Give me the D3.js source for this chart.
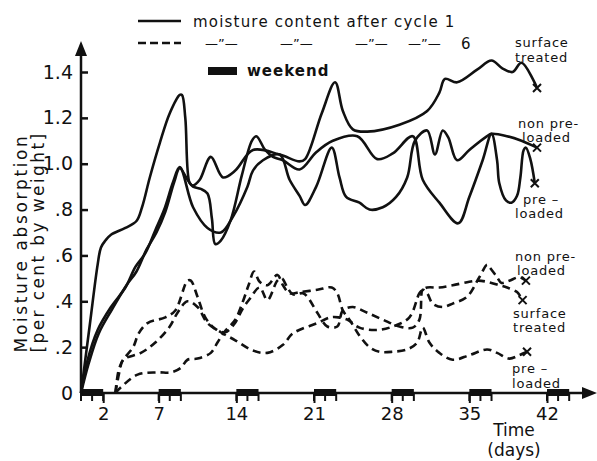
<!DOCTYPE html>
<html>
<head>
<meta charset="utf-8">
<script src="https://cdn.jsdelivr.net/npm/d3@7"></script>
<style>
  body { margin: 0; background: #fff; }
  svg text { font-family: "DejaVu Sans", sans-serif; fill: #111; }
</style>
</head>
<body>
<div id="chart"></div>
<script>
// moisture absorption, [day, per cent by weight]
const solidSurface = [[0,0],[0.8,0.30],[1.5,0.56],[1.8,0.635],[2.2,0.665],[2.7,0.69],[4.0,0.72],[5.0,0.75],[5.5,0.81],[6.2,0.94],[7.1,1.09],[8.0,1.22],[8.9,1.30],[9.1,1.30],[9.4,1.20],[9.8,0.915],[10.1,0.905],[10.7,0.93],[11.7,1.03],[12.8,0.94],[13.9,0.97],[15.5,1.06],[17.9,1.04],[19.7,1.01],[20.2,1.02],[21.7,1.22],[22.9,1.355],[23.6,1.23],[24.5,1.15],[25.8,1.14],[28.7,1.17],[31.2,1.23],[32.3,1.31],[32.8,1.37],[33.9,1.355],[35.7,1.41],[37.0,1.45],[38.0,1.415],[38.9,1.40],[39.7,1.44],[41.1,1.33]]
const solidNonPre = [[0,0],[0.6,0.145],[1.5,0.275],[2.7,0.375],[4.0,0.46],[4.9,0.55],[5.8,0.61],[6.7,0.71],[7.5,0.80],[8.3,0.92],[8.9,0.985],[10.1,0.81],[11.4,0.72],[12.6,0.70],[13.7,0.77],[15.0,0.90],[15.5,0.97],[16.4,1.015],[17.9,1.04],[18.8,0.93],[19.7,0.86],[20.2,0.82],[21.2,0.90],[22.6,1.07],[23.3,0.94],[23.9,0.855],[25.1,0.83],[26.0,0.80],[27.2,0.81],[28.4,0.855],[29.4,0.94],[30.1,1.10],[31.2,1.145],[31.9,1.04],[32.6,1.145],[33.1,1.115],[33.9,1.015],[35.0,1.06],[36.6,1.12],[37.0,1.13],[38.4,1.12],[39.7,1.10],[41.1,1.07]]
const solidPre = [[0,0],[0.7,0.13],[1.6,0.26],[2.8,0.365],[4.1,0.47],[5.0,0.53],[5.9,0.625],[6.8,0.70],[7.6,0.79],[8.4,0.92],[8.9,0.98],[9.6,0.93],[10.1,0.90],[10.8,0.89],[11.4,0.87],[11.8,0.76],[12.1,0.65],[12.6,0.665],[13.5,0.755],[14.5,0.95],[15.4,1.10],[15.8,1.12],[16.6,1.06],[17.3,1.03],[18.2,1.015],[19.7,0.975],[21.2,1.05],[22.7,1.10],[24.9,1.12],[26.7,1.02],[28.1,1.045],[29.9,1.12],[30.8,0.93],[32.3,0.83],[34.0,0.74],[35.0,0.855],[36.2,1.015],[37.0,1.13],[37.5,1.015],[37.7,0.915],[38.3,0.84],[38.8,0.83],[39.3,0.86],[39.6,0.94],[39.9,1.06],[40.1,1.07],[40.5,1.02],[40.9,0.915]]
const dashNonPre = [[3.1,0],[3.4,0.1],[3.8,0.145],[4.7,0.2],[5.2,0.26],[6.0,0.305],[7.6,0.33],[8.5,0.36],[9.6,0.49],[9.9,0.49],[10.5,0.42],[11.2,0.33],[12.1,0.28],[13.0,0.265],[13.8,0.30],[14.6,0.37],[15.2,0.41],[16.1,0.46],[16.8,0.405],[17.7,0.49],[18.1,0.50],[18.6,0.46],[19.1,0.43],[20.0,0.435],[20.4,0.42],[21.3,0.35],[22.2,0.29],[23.1,0.29],[23.6,0.36],[24.5,0.375],[25.8,0.35],[27.2,0.32],[28.7,0.29],[29.9,0.285],[30.5,0.32],[30.8,0.45],[31.2,0.435],[31.7,0.39],[32.6,0.375],[33.5,0.39],[34.8,0.42],[35.9,0.505],[36.6,0.56],[36.8,0.55],[37.5,0.505],[37.9,0.48],[38.6,0.49],[39.5,0.505],[40.1,0.49]]
const dashSurface = [[3.1,0],[3.5,0.1],[3.8,0.145],[5.4,0.175],[6.7,0.22],[8.0,0.29],[8.7,0.35],[9.6,0.40],[10.5,0.375],[11.4,0.305],[12.6,0.265],[13.9,0.23],[15.5,0.185],[16.8,0.175],[18.2,0.21],[19.1,0.26],[21.3,0.305],[22.5,0.33],[23.2,0.33],[24.0,0.32],[25.1,0.285],[26.7,0.275],[28.1,0.29],[29.6,0.33],[30.5,0.435],[30.8,0.45],[31.2,0.46],[32.3,0.46],[33.5,0.47],[35.0,0.485],[35.8,0.49],[36.6,0.485],[37.7,0.47],[38.4,0.46],[39.3,0.44],[39.8,0.405]]
const dashPre = [[3.1,0],[3.6,0.025],[5.1,0.08],[6.9,0.09],[8.1,0.09],[9.0,0.11],[9.6,0.145],[10.5,0.15],[11.7,0.175],[12.3,0.22],[12.9,0.265],[13.9,0.32],[14.6,0.40],[15.1,0.47],[15.6,0.53],[16.1,0.485],[16.8,0.47],[17.7,0.515],[18.2,0.47],[18.8,0.435],[19.7,0.44],[21.3,0.45],[22.6,0.46],[23.1,0.435],[23.6,0.36],[24.2,0.32],[25.1,0.25],[26.0,0.20],[26.9,0.18],[28.1,0.18],[29.4,0.19],[30.3,0.22],[30.8,0.285],[31.4,0.22],[32.3,0.175],[33.5,0.145],[35.0,0.165],[36.6,0.19],[37.5,0.175],[38.6,0.15],[39.5,0.165],[40.2,0.18]]

const yTicks = [0, 0.2, 0.4, 0.6, 0.8, 1.0, 1.2, 1.4]
const yTickLabels = ['0', '.2', '.4', '.6', '.8', '1.0', '1.2', '1.4']
const xTicks = [2, 7, 14, 21, 28, 35, 42]
const weekends = [0, 7, 14, 21, 28, 35, 42]

const width = 597, height = 461
const svg = d3.select('#chart').append('svg')
    .attr('width', width)
    .attr('height', height)

const x = d3.scaleLinear().domain([0, 42]).range([81, 547])
const y = d3.scaleLinear().domain([0, 1.4]).range([393, 72])

const line = d3.line()
    .x(d => x(d[0]))
    .y(d => y(d[1]))
    .curve(d3.curveCatmullRom.alpha(0.5))

// weekends on the time axis
svg.append('g').selectAll('rect')
    .data(weekends)
    .enter()
    .append('rect')
    .attr('x', d => x(d))
    .attr('y', 389)
    .attr('width', d => x(d + 2) - x(d))
    .attr('height', 7)
    .attr('fill', '#111')
svg.append('g').selectAll('line')
    .data(weekends.flatMap(w => [w, w + 1, w + 2]))
    .enter()
    .append('line')
    .attr('x1', d => x(d)).attr('x2', d => x(d))
    .attr('y1', 393).attr('y2', 401)
    .attr('stroke', '#111')
    .attr('stroke-width', 2)

// axes
const yAxis = d3.axisLeft(y)
    .tickValues(yTicks)
    .tickFormat((d, i) => yTickLabels[i])
    .tickSizeInner(-7)
    .tickSizeOuter(0)
    .tickPadding(8)
svg.append('g')
    .attr('transform', `translate(${x(0)},0)`)
    .call(yAxis)
    .call(g => g.select('.domain').remove())
    .call(g => g.selectAll('line').attr('stroke', '#111').attr('stroke-width', 2.5))
    .call(g => g.selectAll('text').attr('font-family', '"DejaVu Sans Condensed", "DejaVu Sans"').attr('font-size', 19).attr('fill', '#111'))

const xAxis = d3.axisBottom(x)
    .tickValues(xTicks)
    .tickSizeInner(10)
    .tickSizeOuter(0)
    .tickPadding(4)
svg.append('g')
    .attr('transform', `translate(0,${y(0)})`)
    .call(xAxis)
    .call(g => g.select('.domain').remove())
    .call(g => g.selectAll('line').attr('stroke', '#111').attr('stroke-width', 2))
    .call(g => g.selectAll('text').attr('font-family', '"DejaVu Sans Condensed", "DejaVu Sans"').attr('font-size', 18).attr('fill', '#111'))

// axis lines with arrow heads
svg.append('line')
    .attr('x1', x(0)).attr('y1', y(0)).attr('x2', x(0)).attr('y2', 50)
    .attr('stroke', '#111').attr('stroke-width', 2.5)
svg.append('path')
    .attr('d', `M${x(0)},41 L${x(0) - 6},56 L${x(0) + 6},56 Z`)
    .attr('fill', '#111')
svg.append('line')
    .attr('x1', x(0)).attr('y1', y(0)).attr('x2', 588).attr('y2', y(0))
    .attr('stroke', '#111').attr('stroke-width', 2.5)
svg.append('path')
    .attr('d', `M597,${y(0)} L582,${y(0) - 6} L582,${y(0) + 6} Z`)
    .attr('fill', '#111')

// curves
const series = [
    { data: solidSurface, dash: null },
    { data: solidNonPre, dash: null },
    { data: solidPre, dash: null },
    { data: dashNonPre, dash: '8,5' },
    { data: dashSurface, dash: '8,5' },
    { data: dashPre, dash: '8,5' }
]
svg.append('g').selectAll('path')
    .data(series)
    .enter()
    .append('path')
    .attr('d', d => line(d.data))
    .attr('fill', 'none')
    .attr('stroke', '#111')
    .attr('stroke-width', 2.6)
    .attr('stroke-linejoin', 'round')
    .attr('stroke-dasharray', d => d.dash)

// crosses at the last reading
svg.append('g').selectAll('path')
    .data(series)
    .enter()
    .append('path')
    .attr('d', d => {
        const p = d.data[d.data.length - 1]
        const cx = x(p[0]), cy = y(p[1])
        return `M${cx - 4},${cy - 4}L${cx + 4},${cy + 4}M${cx - 4},${cy + 4}L${cx + 4},${cy - 4}`
    })
    .attr('stroke', '#111')
    .attr('stroke-width', 2)

// curve names
const names = [
    ['surface', 515, 47], ['treated', 515, 62],
    ['non pre-', 518, 128], ['loaded', 522, 142],
    ['pre \u2013', 523, 204], ['loaded', 515, 218],
    ['non pre-', 515, 261], ['loaded', 517, 275],
    ['surface', 513, 318], ['treated', 513, 332],
    ['pre \u2013', 512, 373], ['loaded', 512, 388]
]
svg.append('g').selectAll('text')
    .data(names)
    .enter()
    .append('text')
    .attr('x', d => d[1])
    .attr('y', d => d[2])
    .attr('font-size', 13)
    .attr('letter-spacing', 0.8)
    .text(d => d[0])

// legend
svg.append('line').attr('x1', 138).attr('x2', 181).attr('y1', 21).attr('y2', 21)
    .attr('stroke', '#111').attr('stroke-width', 2.4)
svg.append('text').attr('x', 193).attr('y', 27).attr('font-size', 15).attr('letter-spacing', 1.2)
    .text('moisture content after cycle 1')
svg.append('line').attr('x1', 138).attr('x2', 181).attr('y1', 43).attr('y2', 43)
    .attr('stroke', '#111').attr('stroke-width', 2.4).attr('stroke-dasharray', '8,4')
svg.append('g').selectAll('text')
    .data([205, 280, 355, 408])
    .enter()
    .append('text')
    .attr('x', d => d)
    .attr('y', 48)
    .attr('font-size', 13)
    .text('\u2014\u201D\u2014')
svg.append('text').attr('x', 461).attr('y', 49).attr('font-size', 15).text('6')
svg.append('rect').attr('x', 208).attr('y', 67).attr('width', 29).attr('height', 8).attr('fill', '#111')
svg.append('text').attr('x', 247).attr('y', 76).attr('font-size', 15).attr('font-weight', 'bold')
    .attr('letter-spacing', 1).text('weekend')

// axis titles
svg.append('text')
    .attr('transform', 'translate(27,243) rotate(-90)')
    .attr('text-anchor', 'middle')
    .attr('font-size', 17)
    .attr('letter-spacing', 2.6)
    .text('Moisture absorption')
svg.append('text')
    .attr('transform', 'translate(44,242) rotate(-90)')
    .attr('text-anchor', 'middle')
    .attr('font-size', 17)
    .attr('letter-spacing', 2.4)
    .text('[per cent by weight]')
svg.append('text').attr('x', 514).attr('y', 436).attr('text-anchor', 'middle').attr('font-size', 17).text('Time')
svg.append('text').attr('x', 514).attr('y', 456).attr('text-anchor', 'middle').attr('font-size', 17).text('(days)')
</script>
</body>
</html>
